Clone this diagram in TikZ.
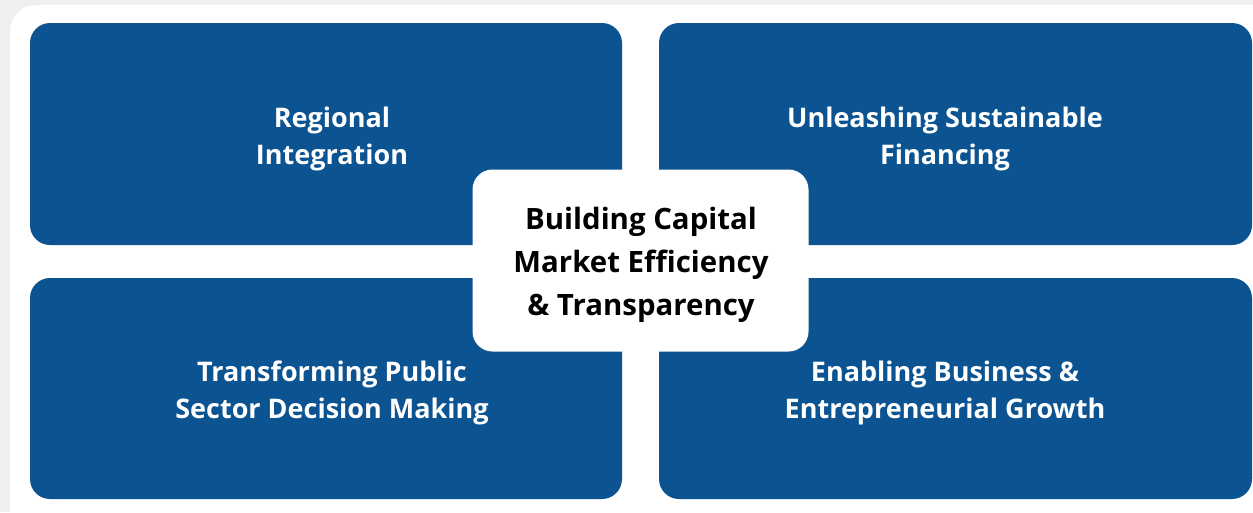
\documentclass[tikz,border=0pt]{standalone}
\usepackage{fontspec}
\setmainfont{Open Sans}
\definecolor{panelblue}{RGB}{11,83,145}
\definecolor{pagegray}{RGB}{239,239,239}
\begin{document}
\begin{tikzpicture}[x=1pt,y=-1pt,
  panel/.style={fill=panelblue, rounded corners=20pt},
  paneltext/.style={text=white, font=\bfseries\fontsize{27}{37.5}\selectfont, align=center},
  hubtext/.style={text=black, font=\bfseries\fontsize{29.4}{43}\selectfont, align=center}]
  \useasboundingbox (0,0) rectangle (1253,512);
  \clip (0,0) rectangle (1253,512);
  \fill[pagegray] (0,0) rectangle (1253,512);
  % white card behind the four panels
  \fill[white, rounded corners=26pt] (10,5) rectangle (1290,540);
  % four quadrant panels
  \fill[panel] (30,23) rectangle (622,245);
  \fill[panel] (659,23) rectangle (1252,245);
  \fill[panel] (30,278) rectangle (622,499);
  \fill[panel] (659,278) rectangle (1252,499);
  % central hub
  \node[fill=white, rounded corners=20pt, minimum width=336pt, minimum height=182pt, inner sep=0pt]
    (hub) at (640.5,260.5) {};
  \node[hubtext] (hubt) at (641,264.5) {Building Capital\\Market Efficiency\\\& Transparency};
  % quadrant labels
  \node[paneltext] (tl) at (332,139) {Regional\\Integration};
  \node[paneltext] (tr) at (945,139) {Unleashing Sustainable\\Financing};
  \node[paneltext] (bl) at (332,393) {Transforming Public\\Sector Decision Making};
  \node[paneltext] (br) at (945,393) {Enabling Business \&\\Entrepreneurial Growth};
\end{tikzpicture}
\end{document}
